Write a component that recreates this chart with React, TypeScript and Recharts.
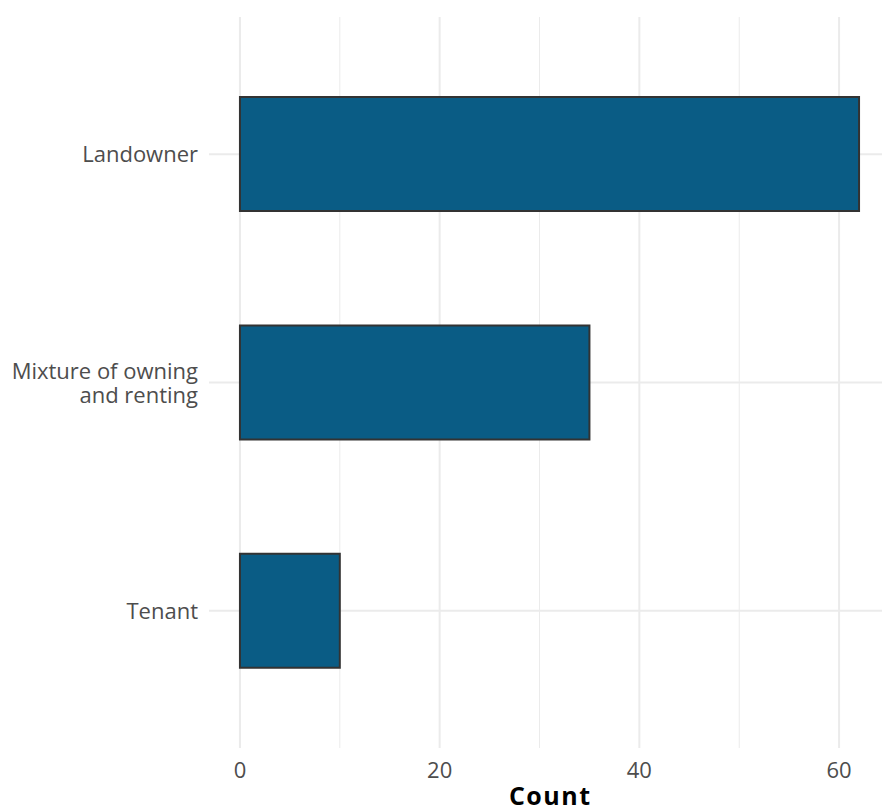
import React from 'react';
import { BarChart, Bar, XAxis, YAxis, CartesianGrid } from 'recharts';

const categories = ['Landowner', 'Mixture of owning\nand renting', 'Tenant'];
const counts = [62, 35, 10];
const majorTicks = [0, 20, 40, 60];
const minorTicks = [10, 30, 50];

const data = categories.map((c, i) => ({ category: c, count: counts[i] }));

const FONT = '"Open Sans", sans-serif';
const TICK_SIZE = 22;

const YTick = (props: any) => {
  const { x, y, payload } = props;
  const lines = String(payload.value).split('\n');
  const lh = 24;
  const start = -((lines.length - 1) * lh) / 2 + 8;
  return (
    <text x={x} y={y} textAnchor="end" fill="#4D4D4D" fontSize={TICK_SIZE} fontFamily={FONT}>
      {lines.map((l, i) => (
        <tspan key={i} x={x} dy={i === 0 ? start : lh}>
          {l}
        </tspan>
      ))}
    </text>
  );
};

const XTick = (props: any) => {
  const { x, y, payload } = props;
  return (
    <text x={x} y={y + 30} textAnchor="middle" fill="#4D4D4D" fontSize={TICK_SIZE} fontFamily={FONT}>
      {payload.value}
    </text>
  );
};

const CountLabel = (props: any) => {
  const { viewBox } = props;
  const cx = viewBox.x + viewBox.width / 2;
  return (
    <text
      x={cx + 0.75}
      y={viewBox.y + 57}
      textAnchor="middle"
      fill="#000000"
      fontSize={25}
      fontWeight={700}
      letterSpacing={1.5}
      fontFamily={FONT}
    >
      Count
    </text>
  );
};

const scaleOf = (axis: any) => {
  const s = axis && axis.scale;
  if (!s) return null;
  return typeof s === 'function' ? s : s.map ? (v: any) => s.map(v) : null;
};

const majorV = (args: any) => {
  const s = scaleOf(args.xAxis);
  return s ? majorTicks.map((t) => s(t)) : [];
};
const minorV = (args: any) => {
  const s = scaleOf(args.xAxis);
  return s ? minorTicks.map((t) => s(t)) : [];
};
const majorH = (args: any) => {
  const s = scaleOf(args.yAxis);
  if (!s) return [];
  const step = s(categories[1]) - s(categories[0]);
  return categories.map((c) => s(c) + step / 2);
};

export default function App() {
  return (
    <div style={{ position: 'absolute', left: 0, top: 0, width: 882, height: 812, overflow: 'hidden', background: '#fff' }}>
      <BarChart
        width={890}
        height={812}
        data={data}
        layout="vertical"
        margin={{ top: 17, right: 0, bottom: 0, left: 0 }}
        barCategoryGap="25%"
      >
        <CartesianGrid
          stroke="#EBEBEB"
          strokeWidth={1}
          horizontal={false}
          vertical={true}
          verticalCoordinatesGenerator={minorV}
        />
        <CartesianGrid
          stroke="#EBEBEB"
          strokeWidth={2}
          horizontal={true}
          vertical={true}
          verticalCoordinatesGenerator={majorV}
          horizontalCoordinatesGenerator={majorH}
        />
        <XAxis
          type="number"
          dataKey="count"
          domain={[-3.1, 65.1]}
          ticks={majorTicks}
          allowDataOverflow
          axisLine={false}
          tickLine={false}
          tickSize={0}
          tickMargin={0}
          height={64}
          tick={<XTick />}
          interval={0}
          label={<CountLabel />}
        />
        <YAxis
          type="category"
          dataKey="category"
          width={209}
          axisLine={false}
          tickLine={false}
          tickSize={0}
          tickMargin={11}
          padding={{ top: 23, bottom: 23 }}
          tick={<YTick />}
          interval={0}
        />
        <Bar dataKey="count" fill="#0A5C85" stroke="#333333" strokeWidth={2} isAnimationActive={false} />
      </BarChart>
    </div>
  );
}
